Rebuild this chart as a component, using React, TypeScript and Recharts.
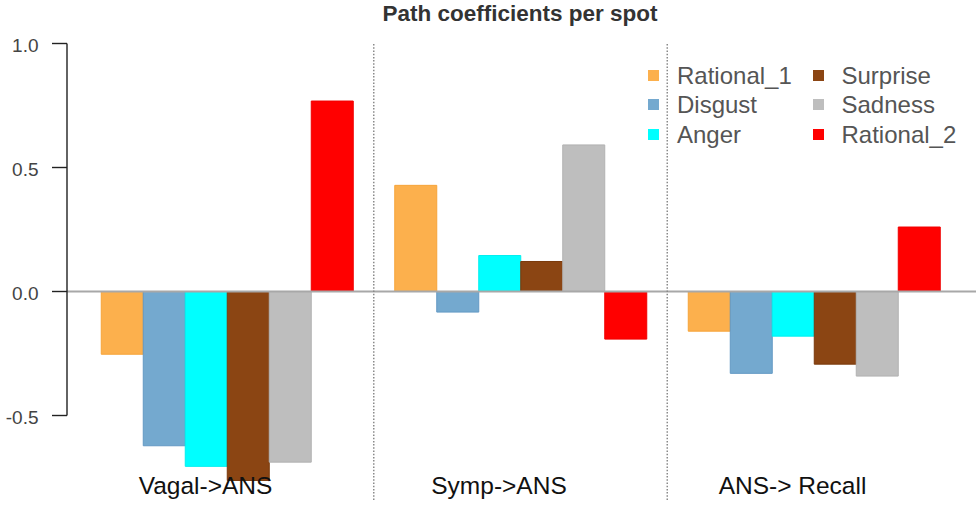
import React from 'react';
import { BarChart, Bar, XAxis, YAxis, ReferenceLine, Legend } from 'recharts';

// ---- data ----
const categories = ['Vagal->ANS', 'Symp->ANS', 'ANS-> Recall'];
const rational1 = [-0.253, 0.428, -0.16];
const disgust = [-0.622, -0.083, -0.33];
const anger = [-0.705, 0.145, -0.18];
const surprise = [-0.762, 0.121, -0.293];
const sadness = [-0.688, 0.591, -0.341];
const rational2 = [0.768, -0.192, 0.26];

const seriesNames = ['Rational_1', 'Disgust', 'Anger', 'Surprise', 'Sadness', 'Rational_2'];
const seriesValues = [rational1, disgust, anger, surprise, sadness, rational2];
const seriesColors = ['#FCB04D', '#74A9CF', '#00FFFF', '#8B4513', '#BEBEBE', '#FF0000'];
const seriesStrokes = ['#F6A43A', '#6399C4', '#00EFEF', '#7A3A0C', '#B2B2B2', '#F00000'];
const yTicks = [-0.5, 0, 0.5, 1.0];
const groupDividers = [1, 2];
const title = 'Path coefficients per spot';

// ---- layout ----
const W = 976;
const H = 507;
const PLOT_TOP = 43.5;
const PLOT_BOTTOM = 500;
const Y_MIN = -0.8407;
const Y_MAX = 1.0;
const AXIS_W = 67;
const PAD_L = 13.25;
const PAD_R = 15.25;
const PX_PER_UNIT = (PLOT_BOTTOM - PLOT_TOP) / (Y_MAX - Y_MIN);
const FONT = '"Liberation Sans", Arial, Helvetica, sans-serif';

const data = categories.map((c, i) => {
  const row: Record<string, any> = { category: c, groupPos: i + 0.5 };
  seriesNames.forEach((n, k) => {
    row[n] = seriesValues[k][i];
  });
  return row;
});

const YTick = (props: any) => {
  const { x, y, payload } = props;
  const v = payload.value as number;
  const top = Math.max(...yTicks);
  const bottom = Math.min(...yTicks);
  return (
    <g>
      {v === top && (
        <line x1={x} x2={x} y1={y} y2={y + (top - bottom) * PX_PER_UNIT} stroke="#222" strokeWidth={1.4} />
      )}
      <line x1={x - 15} x2={x} y1={y} y2={y} stroke="#222" strokeWidth={1.4} />
      <text x={x - 28.5} y={y} dy={8.4} textAnchor="end" fontSize={19} fill="#444" fontFamily={FONT}>
        {v.toFixed(1)}
      </text>
    </g>
  );
};

const XTick = (props: any) => {
  const { x, y, payload } = props;
  return (
    <text x={x - 21.5} y={y} dy={-6} textAnchor="middle" fontSize={24.5} fill="#111" fontFamily={FONT}>
      {payload.value}
    </text>
  );
};

const LegendContent = () => (
  <div style={{ position: 'relative', width: 330, height: 90, fontFamily: FONT }}>
    {seriesNames.map((n, k) => {
      const col = Math.floor(k / 3);
      const row = k % 3;
      return (
        <div
          key={n}
          style={{
            position: 'absolute',
            left: col * 164.5,
            top: row * 29.4,
            height: 29.4,
            lineHeight: '29.4px',
            whiteSpace: 'nowrap',
          }}
        >
          <span
            style={{
              position: 'absolute',
              left: 0,
              top: 9.2,
              width: 11,
              height: 11,
              background: seriesColors[k],
            }}
          />
          <span style={{ position: 'absolute', left: 29, top: 0, fontSize: 24, color: '#555' }}>{n}</span>
        </div>
      );
    })}
  </div>
);

export default function App() {
  return (
    <div style={{ position: 'absolute', left: 0, top: 0, width: W, height: H, background: '#fff' }}>
      <div
        style={{
          position: 'absolute',
          left: 0,
          top: 2.6,
          width: 1040,
          textAlign: 'center',
          fontFamily: FONT,
          fontWeight: 'bold',
          fontSize: 22.5,
          lineHeight: '22.5px',
          color: '#333',
          zIndex: 2,
        }}
      >
        {title}
      </div>
      <BarChart
        width={W}
        height={H}
        data={data}
        margin={{ top: PLOT_TOP, right: 0, bottom: H - PLOT_BOTTOM - 1, left: 0 }}
        barGap={0}
        barSize={42}
      >
        <XAxis
          xAxisId="cat"
          dataKey="category"
          height={1}
          axisLine={false}
          tickLine={false}
          tickSize={0}
          tickMargin={0}
          padding={{ left: PAD_L, right: PAD_R }}
          tick={<XTick />}
          interval={0}
        />
        <XAxis
          xAxisId="grp"
          dataKey="groupPos"
          type="number"
          domain={[0, categories.length]}
          allowDataOverflow
          hide
          padding={{ left: PAD_L, right: PAD_R }}
        />
        <YAxis
          width={AXIS_W}
          domain={[Y_MIN, Y_MAX]}
          allowDataOverflow
          ticks={yTicks}
          axisLine={false}
          tickLine={false}
          tickSize={0}
          tickMargin={0}
          tick={<YTick />}
          interval={0}
        />
        {seriesNames.map((n, k) => (
          <Bar
            key={n}
            xAxisId="cat"
            dataKey={n}
            name={n}
            fill={seriesColors[k]}
            stroke={seriesStrokes[k]}
            strokeWidth={1}
            isAnimationActive={false}
          />
        ))}
        <ReferenceLine xAxisId="cat" y={0} stroke="#A8A8A8" strokeWidth={2} />
        {groupDividers.map((d) => (
          <ReferenceLine
            key={d}
            xAxisId="grp"
            x={d}
            stroke="#8A8A8A"
            strokeWidth={1.5}
            strokeDasharray="1.5 1.7"
          />
        ))}
        <Legend
          layout="vertical"
          align="center"
          verticalAlign="middle"
          content={<LegendContent />}
          wrapperStyle={{ position: 'absolute', left: 648, top: 60.9, width: 330, height: 90 }}
        />
      </BarChart>
    </div>
  );
}
